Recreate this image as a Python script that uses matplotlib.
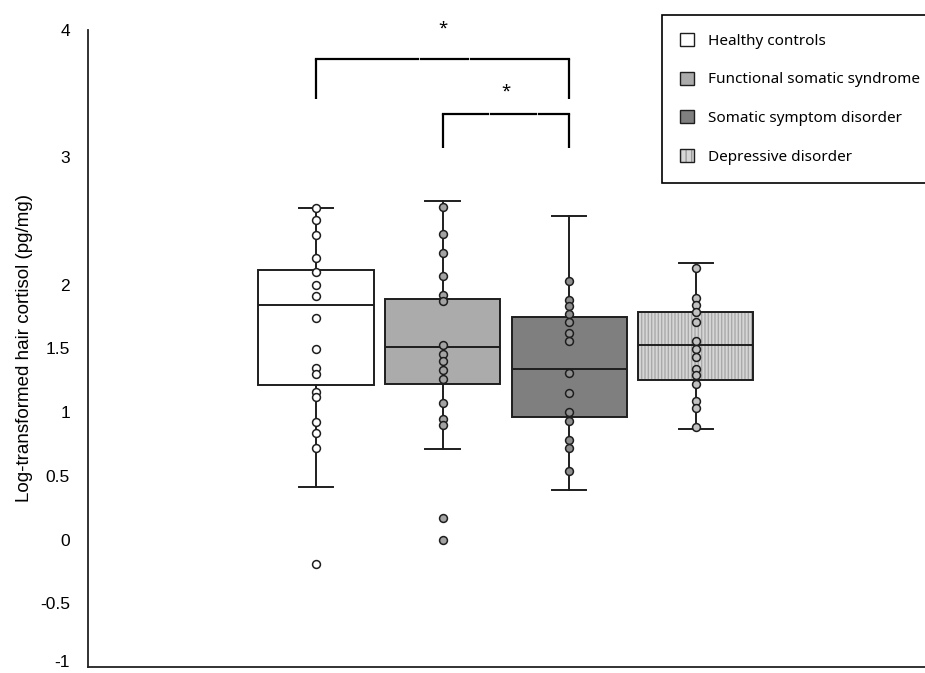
import numpy as np
import matplotlib.pyplot as plt
from matplotlib.patches import Patch, PathPatch
from matplotlib.transforms import ScaledTranslation

# groups and box statistics
groups = ['Healthy controls', 'Functional somatic syndrome',
          'Somatic symptom disorder', 'Depressive disorder']
q1 = [1.21, 1.22, 0.96, 1.25]
med = [1.84, 1.51, 1.34, 1.53]
q3 = [2.12, 1.89, 1.75, 1.79]
whis_lo = [0.41, 0.71, 0.39, 0.87]
whis_hi = [2.60, 2.66, 2.54, 2.17]

# individual subjects
hc_vals = [2.60, 2.51, 2.39, 2.21, 2.10, 2.00, 1.91, 1.74, 1.50, 1.35, 1.30,
           1.16, 1.12, 0.92, 0.84, 0.72, -0.19]
fss_vals = [2.61, 2.40, 2.25, 2.07, 1.92, 1.87, 1.53, 1.46, 1.40, 1.33, 1.26,
            1.07, 0.95, 0.90, 0.17, 0.00]
ssd_vals = [2.03, 1.88, 1.83, 1.77, 1.71, 1.62, 1.56, 1.31, 1.15, 1.00, 0.93,
            0.78, 0.72, 0.54]
dd_vals = [2.13, 1.90, 1.84, 1.79, 1.71, 1.56, 1.50, 1.43, 1.34, 1.29, 1.22,
           1.09, 1.03, 0.88]
points = [hc_vals, fss_vals, ssd_vals, dd_vals]

# significance brackets: (from group, to group, bar height, leg bottom, star height)
brackets = [(1, 3, 3.77, 3.46, 4.01), (2, 3, 3.34, 3.07, 3.52)]
bracket_gaps = [[0.41, 0.605], [0.37, 0.75]]  # small breaks in the bar (fraction of span)

yticks = [-1, -0.5, 0, 0.5, 1, 1.5, 2, 3, 4]
ytick_labels = ['-1', '-0.5', '0', '0.5', '1', '1.5', '2', '3', '4']

box_faces = ['white', '#ababab', '#7f7f7f', '#d6d6d6']
dot_faces = ['white', '#a3a3a3', '#8e8e8e', '#c2c2c2']
edge = '#1e1e1e'

plt.rcParams['font.family'] = ['Liberation Sans', 'DejaVu Sans']

fig = plt.figure(figsize=(9.25, 6.73), dpi=100)
ax = fig.add_axes([88 / 925, 6 / 673, 1 - 88 / 925, (667 - 30) / 673])

pos = np.arange(1, len(groups) + 1)
stats = []
for i in range(len(groups)):
    stats.append(dict(med=med[i], q1=q1[i], q3=q3[i],
                      whislo=whis_lo[i], whishi=whis_hi[i], fliers=[]))

bp = ax.bxp(stats, positions=pos, widths=0.91, capwidths=0.27,
            patch_artist=True, showfliers=False,
            boxprops=dict(edgecolor=edge, linewidth=1.4),
            whiskerprops=dict(color=edge, linewidth=1.4),
            capprops=dict(color=edge, linewidth=1.4),
            medianprops=dict(color=edge, linewidth=1.4))

for i, b in enumerate(bp['boxes']):
    b.set_facecolor(box_faces[i])
    if i == 3:
        # striped fill: grey hatch, then a black outline on top
        b.set_edgecolor('#a9a9a9')
        b.set_hatch('|||||')
        b.set_linewidth(0)
        ax.add_patch(PathPatch(b.get_path(), fill=False, edgecolor=edge,
                               linewidth=1.4, zorder=2.05))

for i, vals in enumerate(points):
    ax.scatter(np.full(len(vals), pos[i]), vals, s=32, facecolor=dot_faces[i],
               edgecolor=edge, linewidth=1.1, zorder=3)

# brackets with stars
for (g1, g2, top, bottom, star_y), gaps in zip(brackets, bracket_gaps):
    ax.plot([g1, g1], [bottom, top], color='black', lw=1.6, solid_capstyle='butt')
    ax.plot([g2, g2], [bottom, top], color='black', lw=1.6, solid_capstyle='butt')
    span = g2 - g1
    cuts = [g1] + [g1 + f * span for f in gaps] + [g2]
    for k in range(len(cuts) - 1):
        x0 = cuts[k] + (0.012 if k > 0 else 0)
        x1 = cuts[k + 1] - (0.012 if k < len(cuts) - 2 else 0)
        ax.plot([x0, x1], [top, top], color='black', lw=1.6, solid_capstyle='projecting')
    ax.text((g1 + g2) / 2, star_y, '*', ha='center', va='center', fontsize=12,
            family=['Noto Sans', 'DejaVu Sans'])

ax.set_xlim(-0.80, 5.81)
ax.set_ylim(-1, 4)
ax.set_xticks([])
ax.set_yticks(yticks)
ax.set_yticklabels(ytick_labels)
ax.tick_params(axis='y', length=0, pad=13, labelsize=12.5)
ax.set_ylabel('Log-transformed hair cortisol (pg/mg)', fontsize=13.5)
ax.yaxis.set_label_coords(-0.066, 0.5)

# the bottom label sits on the figure edge; lift it a little so it stays readable
bottom_lbl = ax.get_yticklabels()[0]
bottom_lbl.set_transform(bottom_lbl.get_transform() + ScaledTranslation(0, 6 / 100, fig.dpi_scale_trans))

for side in ['top', 'right']:
    ax.spines[side].set_visible(False)
for side in ['left', 'bottom']:
    ax.spines[side].set_linewidth(1.3)
    ax.spines[side].set_color('#222222')

# legend
handles = []
for i in range(len(groups)):
    if i == 3:
        handles.append((Patch(facecolor=box_faces[i], edgecolor='#9a9a9a', hatch='|||', linewidth=0),
                        Patch(facecolor='none', edgecolor=edge, linewidth=1.0)))
    else:
        handles.append(Patch(facecolor=box_faces[i], edgecolor=edge, linewidth=1.0))

leg = fig.legend(handles, groups, loc='upper left',
                 bbox_to_anchor=(662 / 925, 1 - 15 / 673), borderaxespad=0,
                 fancybox=False, framealpha=1, edgecolor='black',
                 prop=dict(family=['Noto Sans', 'DejaVu Sans'], size=11),
                 handlelength=0.9, handleheight=0.9, handletextpad=0.9,
                 labelspacing=1.5, borderpad=1.2)
leg.get_frame().set_linewidth(1.2)

fig.savefig('out.png', dpi=100)
